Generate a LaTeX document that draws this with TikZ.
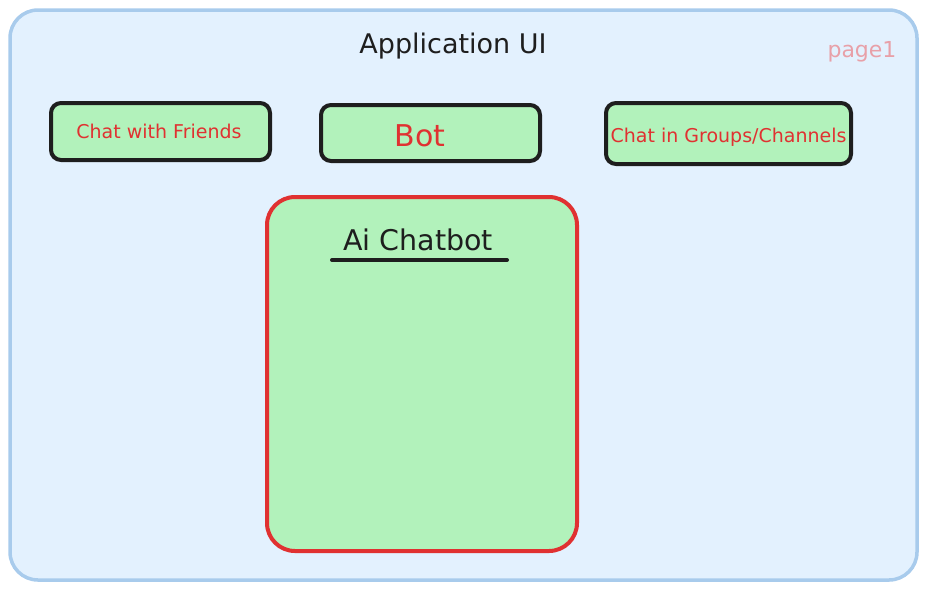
\documentclass[tikz,border=0pt]{standalone}
\usepackage{fontspec}
\setmainfont{DejaVu Sans}
\definecolor{framefill}{HTML}{E3F1FE}
\definecolor{framedraw}{HTML}{A8CBEC}
\definecolor{boxfill}{HTML}{B2F2BB}
\definecolor{ink}{HTML}{1E1E1E}
\definecolor{redink}{HTML}{E03131}
\definecolor{pinkink}{HTML}{E8A0A8}
\begin{document}
\begin{tikzpicture}[x=1pt,y=-1pt,
  frame/.style={draw=framedraw,fill=framefill,line width=3.5pt,rounded corners=28pt},
  tab/.style={draw=ink,fill=boxfill,line width=4pt,rounded corners=10pt},
  panel/.style={draw=redink,fill=boxfill,line width=4pt,rounded corners=28pt},
  tabtext/.style={text=redink,inner sep=0pt,anchor=center}]
\useasboundingbox (0,0) rectangle (926,590);
\draw[frame] (10,10) rectangle (917,580);
\node[inner sep=0pt,text=ink,font=\fontsize{27}{30}\selectfont] (title) at (453,46) {Application UI};
\node[inner sep=0pt,text=pinkink,font=\fontsize{22}{26}\selectfont] (page) at (862,52) {page1};
\draw[tab] (51,103) rectangle (270,160);
\node[tabtext,font=\fontsize{19}{22}\selectfont] (t1) at (159,131) {Chat with Friends};
\draw[tab] (321,105) rectangle (540,161);
\node[tabtext,font=\fontsize{30}{34}\selectfont] (t2) at (420,136) {Bot};
\draw[tab] (606,103) rectangle (851,164);
\node[tabtext,font=\fontsize{19}{22}\selectfont] (t3) at (728.5,137) {Chat in Groups/Channels};
\draw[panel] (267,197) rectangle (577,551);
\node[inner sep=0pt,text=ink,font=\fontsize{28.5}{32}\selectfont] (ai) at (418,240) {Ai Chatbot};
\coordinate (u1) at (332,260);
\coordinate (u2) at (507,260);
\draw[ink,line width=4pt,line cap=round] (u1) -- (u2);
\end{tikzpicture}
\end{document}
